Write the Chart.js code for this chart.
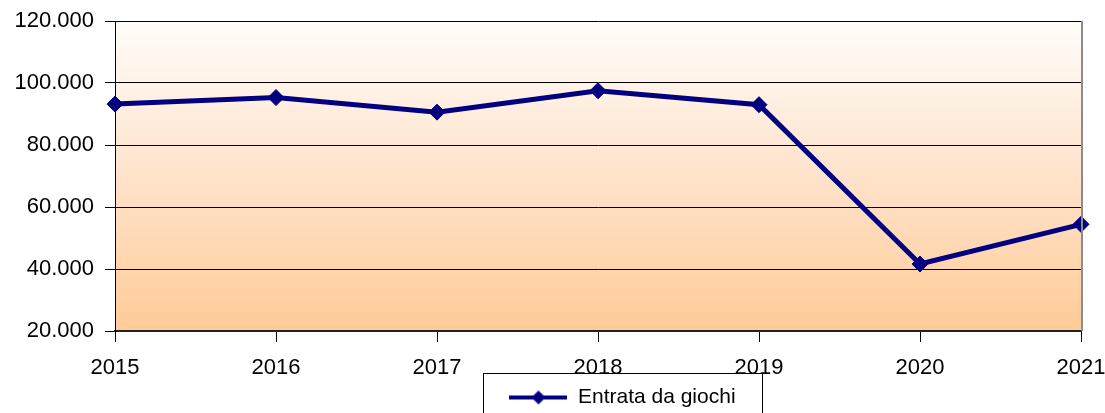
<!DOCTYPE html>
<html>
<head>
<meta charset="utf-8">
<script src="https://cdn.jsdelivr.net/npm/chart.js@4"></script>
<style>
  html, body { margin: 0; padding: 0; background: #fff; }
  #wrap { width: 1105px; height: 413px; }
</style>
</head>
<body>
<div id="wrap"><canvas id="chart" width="1105" height="413"></canvas></div>
<script>
const years = ['2015', '2016', '2017', '2018', '2019', '2020', '2021'];
const entrataGiochi = [93200, 95300, 90600, 97500, 93000, 41600, 54400];
const seriesLabel = 'Entrata da giochi';

const NAVY = '#000080';

// thousands with a dot, as in the original (120.000)
function fmt(v) {
  return String(Math.round(v)).replace(/\B(?=(\d{3})+(?!\d))/g, '.');
}

// legend sample: line with a diamond in the middle
const sample = document.createElement('canvas');
sample.width = 58;
sample.height = 18;
(function () {
  const c = sample.getContext('2d');
  c.fillStyle = NAVY;
  c.fillRect(0, 7, 58, 4);
  c.beginPath();
  c.moveTo(29, 2); c.lineTo(36, 9); c.lineTo(29, 16); c.lineTo(22, 9);
  c.closePath();
  c.fill();
})();

const plotStyle = {
  id: 'plotStyle',
  beforeDraw(chart) {
    const { ctx, chartArea: a } = chart;
    const g = ctx.createLinearGradient(0, a.top, 0, a.bottom);
    g.addColorStop(0, '#fffdfa');
    g.addColorStop(0.5, '#ffe3cb');
    g.addColorStop(1, '#ffcb98');
    ctx.save();
    ctx.fillStyle = g;
    ctx.fillRect(a.left, a.top, a.right - a.left, a.bottom - a.top);
    ctx.restore();
  },
  afterLayout(chart) {
    const lg = chart.legend;
    lg.left = 483; lg.right = 762; lg.top = 386; lg.bottom = 417;
  },
  afterDraw(chart) {
    const { ctx, chartArea: a } = chart;
    ctx.save();
    // right edge of the plot frame, grey
    ctx.strokeStyle = '#8c8c8c';
    ctx.lineWidth = 2;
    ctx.beginPath();
    ctx.moveTo(a.right + 1, a.top);
    ctx.lineTo(a.right + 1, a.bottom);
    ctx.stroke();
    // legend frame
    ctx.strokeStyle = '#000';
    ctx.lineWidth = 1;
    ctx.strokeRect(483.5, 373.5, 279, 60);
    ctx.restore();
  }
};

new Chart(document.getElementById('chart'), {
  type: 'line',
  data: {
    labels: years,
    datasets: [{
      label: seriesLabel,
      data: entrataGiochi,
      borderColor: NAVY,
      backgroundColor: NAVY,
      borderWidth: 5,
      pointStyle: 'rectRot',
      pointRadius: 8,
      pointBorderWidth: 1,
      pointBackgroundColor: NAVY,
      pointBorderColor: NAVY,
      tension: 0,
      clip: false
    }]
  },
  options: {
    responsive: false,
    animation: false,
    devicePixelRatio: 1,
    layout: { padding: { left: 0, right: 24, top: 21, bottom: 0 } },
    scales: {
      x: {
        offset: false,
        grid: { drawOnChartArea: false, drawTicks: true, tickLength: 11, color: '#000', lineWidth: 1 },
        border: { display: true, color: '#222', width: 2 },
        ticks: { color: '#000', font: { family: 'Liberation Sans', size: 22 }, padding: 13, maxRotation: 0, autoSkip: false },
        afterFit(scale) {
          scale.height = 50;
          scale.paddingLeft = 0; scale.paddingRight = 0;
        }
      },
      y: {
        min: 20000,
        max: 120000,
        ticks: {
          stepSize: 20000,
          color: '#000',
          padding: 11,
          font: { family: 'Liberation Sans', size: 22 },
          callback: v => fmt(v)
        },
        grid: { color: '#000', lineWidth: 1, tickLength: 10, drawTicks: true },
        border: { display: true, color: '#000', width: 1 },
        afterFit(scale) {
          scale.width = 115;
          scale.paddingTop = 0; scale.paddingBottom = 0;
        }
      }
    },
    plugins: {
      legend: {
        position: 'bottom',
        labels: {
          usePointStyle: true,
          pointStyle: sample,
          pointStyleWidth: 58,
          color: '#000',
          padding: 1,
          font: { family: 'Liberation Sans', size: 21 }
        }
      },
      tooltip: { enabled: false }
    }
  },
  plugins: [plotStyle]
});
</script>
</body>
</html>
